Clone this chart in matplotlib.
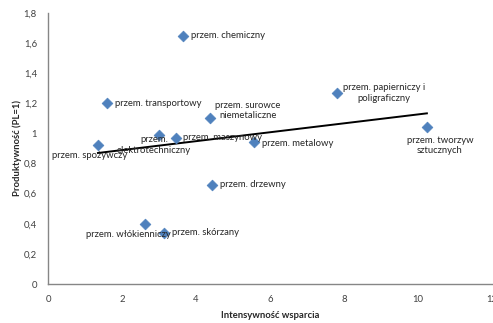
import numpy as np
import matplotlib
matplotlib.use("Agg")
import matplotlib.pyplot as plt
from matplotlib.ticker import FuncFormatter

plt.rcParams["font.family"] = ["Lato", "DejaVu Sans"]

# intensywność wsparcia vs produktywność per branch
branches = [
    "przem. chemiczny",
    "przem. transportowy",
    "przem. spożywczy",
    "przem.\nelektrotechniczny",
    "przem. maszynowy",
    "przem. surowce\nniemetaliczne",
    "przem. metalowy",
    "przem. papierniczy i\npoligraficzny",
    "przem. tworzyw\nsztucznych",
    "przem. drzewny",
    "przem. włókienniczy",
    "przem. skórzany",
]
support = [3.65, 1.59, 1.35, 3.0, 3.46, 4.38, 5.57, 7.81, 10.24, 4.43, 2.62, 3.14]
productivity = [1.65, 1.2, 0.92, 0.99, 0.97, 1.1, 0.94, 1.27, 1.04, 0.66, 0.4, 0.34]

# label placement: (dx, dy) in pixels, horizontal alignment
label_pos = [
    ((8, 0), "left"),
    ((8, 0), "left"),
    ((-8, -10), "center"),
    ((-5, -10), "center"),
    ((7, 0), "left"),
    ((38, 8), "center"),
    ((8, -1), "left"),
    ((47, 0), "center"),
    ((13, -18), "center"),
    ((8, 0), "left"),
    ((-17, -11), "center"),
    ((8, 0), "left"),
]

fig = plt.figure(figsize=(4.93, 3.23), dpi=100)
ax = fig.add_axes([48 / 493, 39 / 323, 444 / 493, 271 / 323])

ax.scatter(support, productivity, marker="D", s=30, color="#4F81BD",
           edgecolors="#4F81BD", linewidths=0.5, zorder=3)

# linear trend over the data range
slope, intercept = np.polyfit(support, productivity, 1)
xs = np.array([min(support), max(support)])
ax.plot(xs, slope * xs + intercept, color="black", lw=1.4, zorder=2)

for name, x, y, (off, ha) in zip(branches, support, productivity, label_pos):
    ax.annotate(name, (x, y), xytext=off, textcoords="offset pixels",
                ha=ha, va="center", fontsize=6.8, color="#262626",
                linespacing=1.25, zorder=4)

ax.set_xlim(0, 12)
ax.set_ylim(0, 1.8)
ax.set_xticks(np.arange(0, 13, 2))
ax.set_yticks(np.arange(0, 1.81, 0.2))
ax.yaxis.set_major_formatter(FuncFormatter(lambda v, p: f"{v:g}".replace(".", ",")))
ax.tick_params(length=0, labelsize=6.8, labelcolor="#404040", pad=8)

for side in ["top", "right"]:
    ax.spines[side].set_visible(False)
for side in ["left", "bottom"]:
    ax.spines[side].set_color("#868686")
    ax.spines[side].set_linewidth(1.0)

ax.set_xlabel("Intensywność wsparcia", fontsize=6.8, fontweight="bold",
              color="#262626", labelpad=5)
ax.set_ylabel("Produktywność (PL=1)", fontsize=6.8, fontweight="bold",
              color="#262626", labelpad=1)

fig.savefig("out.png", dpi=100)
